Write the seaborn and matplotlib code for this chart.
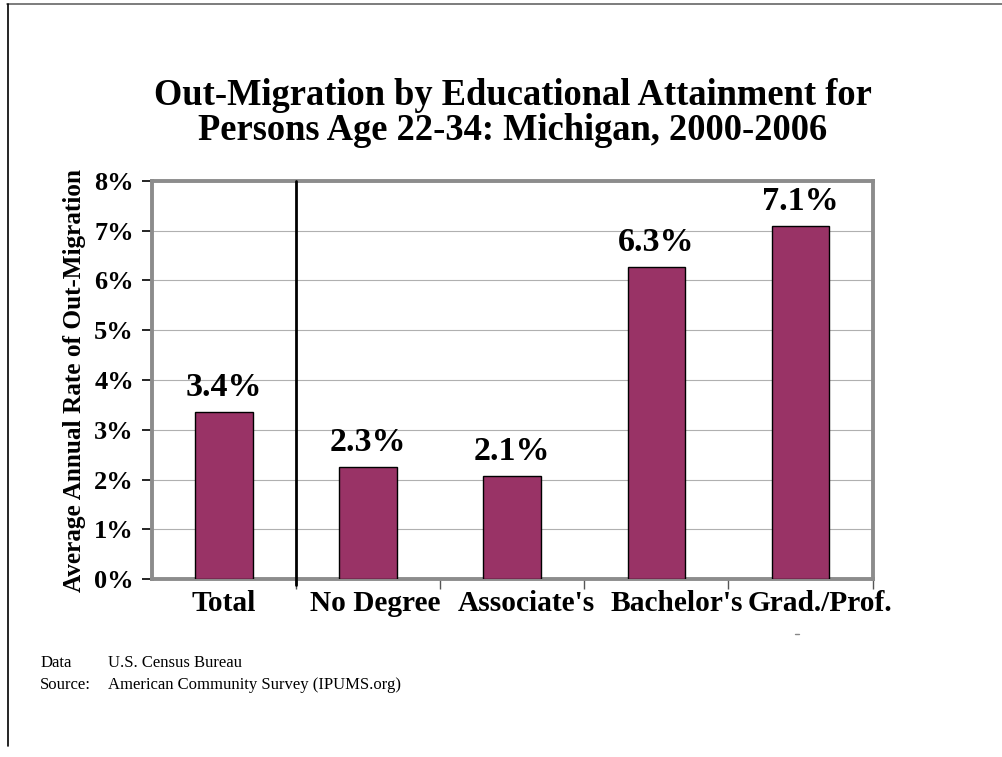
import matplotlib
matplotlib.use("Agg")
import matplotlib.pyplot as plt
import matplotlib.transforms as mtransforms
import seaborn as sns
import pandas as pd
from matplotlib.ticker import FuncFormatter, FixedLocator

categories = ["Total", "No Degree", "Associate's", "Bachelor's", "Grad./Prof."]
rates = [3.36, 2.26, 2.08, 6.27, 7.09]
y_ticks = [0, 1, 2, 3, 4, 5, 6, 7, 8]

title_lines = ["Out-Migration by Educational Attainment for",
               "Persons Age 22-34: Michigan, 2000-2006"]
y_label = "Average Annual Rate of Out-Migration"
note_keys = ["Data", "Source:"]
note_vals = ["U.S. Census Bureau", "American Community Survey (IPUMS.org)"]

sns.set_style("white")
plt.rcParams["font.family"] = ["Liberation Serif", "DejaVu Serif"]
plt.rcParams["text.color"] = "black"
plt.rcParams["axes.labelcolor"] = "black"
plt.rcParams["xtick.color"] = "black"
plt.rcParams["ytick.color"] = "black"

df = pd.DataFrame({"category": categories, "rate": rates})

fig = plt.figure(figsize=(10.03, 7.57), dpi=100)
ax = fig.add_axes([0.1515, 0.235, 0.7185, 0.526])

sns.barplot(data=df, x="category", y="rate", color="#993366", saturation=1,
            width=0.4, edgecolor="black", linewidth=1, ax=ax, zorder=3)

ax.set_ylim(0, 8)
ax.set_xlim(-0.5, len(categories) - 0.5)
ax.yaxis.set_major_locator(FixedLocator(y_ticks))
ax.yaxis.set_major_formatter(FuncFormatter(lambda v, _: f"{v:.0f}%"))
ax.grid(axis="y", color="#b0b0b0", linewidth=0.8, zorder=0)
ax.set_axisbelow(True)

for lbl in ax.get_yticklabels():
    lbl.set_fontsize(19)
    lbl.set_fontweight("bold")
ax.tick_params(axis="y", direction="out", length=7, width=1.2, color="black", pad=6, left=True)

ax.set_xticks(range(len(categories)))
ax.set_xticklabels(categories, fontsize=21.2, fontweight="bold")
ax.tick_params(axis="x", which="major", length=0, pad=8)
ax.set_xticks([i + 0.5 for i in range(len(categories))], minor=True)
ax.tick_params(axis="x", which="minor", direction="out", length=7, width=1, color="#555555", bottom=True)

# Wide category names are spread slightly to the right so they don't collide
label_shift_pts = [0, 5, 10, 14.5, 14]
for lbl, dx in zip(ax.get_xticklabels(), label_shift_pts):
    lbl.set_transform(lbl.get_transform() +
                      mtransforms.ScaledTranslation(dx / 72, 0, fig.dpi_scale_trans))

ax.set_xlabel("")
ax.set_ylabel(y_label, fontsize=18.2, fontweight="bold", labelpad=6)

for side in ["top", "right", "bottom", "left"]:
    ax.spines[side].set_visible(True)
    ax.spines[side].set_color("#8c8c8c")
    ax.spines[side].set_linewidth(2.8)

# Separator between the total and the attainment groups
ax.plot([0.5, 0.5], [-0.12, 8], color="black", linewidth=2, clip_on=False, zorder=4)

for i, v in enumerate(rates):
    ax.text(i, v + 0.18, f"{v:.1f}%", ha="center", va="bottom",
            fontsize=24.5, fontweight="bold", zorder=5)

fig.text(0.511, 0.861, title_lines[0], ha="center", va="baseline",
         fontsize=26.3, fontweight="bold")
fig.text(0.511, 0.8147, title_lines[1], ha="center", va="baseline",
         fontsize=26.3, fontweight="bold")

# Footnote block
fig.text(0.040, 0.124, note_keys[0], fontsize=12, va="center")
fig.text(0.040, 0.095, note_keys[1], fontsize=12, va="center")
fig.text(0.108, 0.124, note_vals[0], fontsize=12, va="center")
fig.text(0.108, 0.095, note_vals[1], fontsize=12, va="center")

# Page border lines
fig.add_artist(plt.Line2D([0.007, 1.0], [0.995, 0.995], color="#666666", linewidth=1.2,
                          transform=fig.transFigure))
fig.add_artist(plt.Line2D([0.0075, 0.0075], [0.995, 0.015], color="black", linewidth=1.2,
                          transform=fig.transFigure))
fig.add_artist(plt.Line2D([0.793, 0.797], [0.163, 0.163], color="#888888", linewidth=1,
                          transform=fig.transFigure))

fig.savefig("out.png", dpi=100)
